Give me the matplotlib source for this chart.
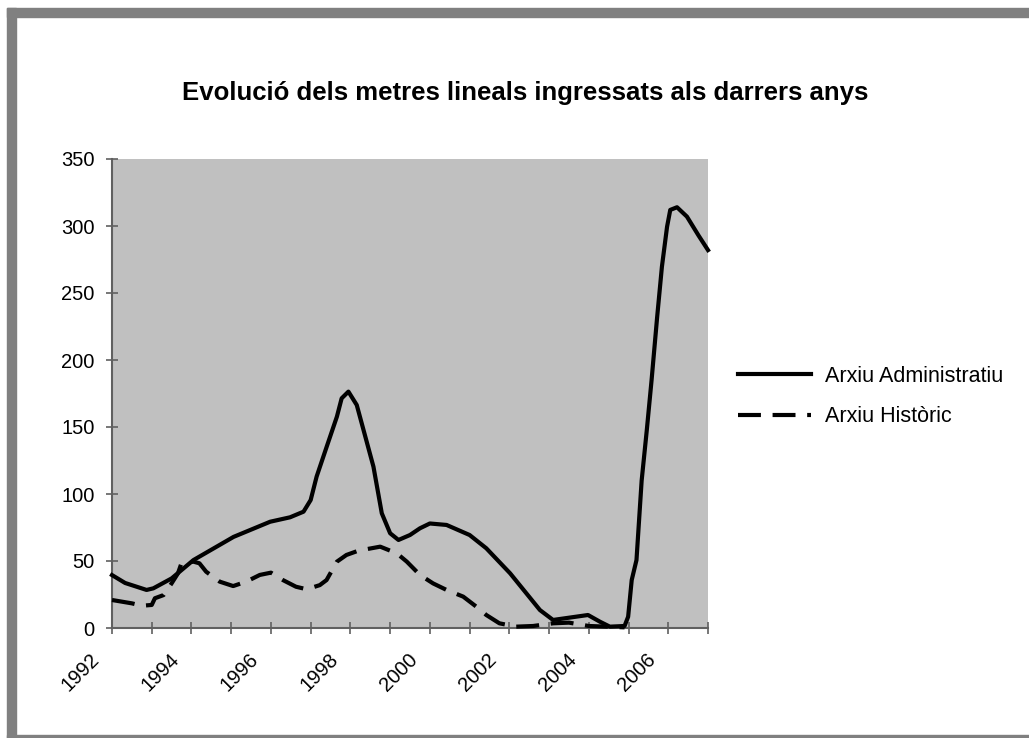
import matplotlib
matplotlib.use("Agg")
import matplotlib.pyplot as plt
import matplotlib.transforms as mtransforms
from matplotlib.patches import Rectangle

plt.rcParams['font.family'] = ['Liberation Sans', 'DejaVu Sans']

# Arxiu Administratiu (solid line)
admin_years = [1992.00, 1992.33, 1992.87, 1993.04, 1993.50, 1994.05, 1995.06, 1995.98,
               1996.48, 1996.82, 1997.00, 1997.15, 1997.40, 1997.66, 1997.78, 1997.95,
               1998.16, 1998.33, 1998.58, 1998.79, 1999.00, 1999.21, 1999.50, 1999.75,
               2000.00, 2000.42, 2001.00, 2001.42, 2002.02, 2002.77, 2003.10, 2003.98,
               2004.28, 2004.53, 2004.90, 2004.99, 2005.08, 2005.20, 2005.33, 2005.46,
               2005.58, 2005.72, 2005.84, 2005.97, 2006.05, 2006.22, 2006.47, 2006.76,
               2007.00]
admin_vals = [39.5, 33.6, 28.4, 29.6, 37.0, 50.7, 68.0, 79.3,
              82.6, 86.8, 95.5, 113, 135, 157.7, 171.4, 176.4,
              166.4, 147.8, 120.4, 85.6, 70.7, 65.7, 69.4, 74.4,
              78.0, 76.9, 69.4, 59.5, 40.8, 13.4, 6.0, 9.7,
              4.7, 1.0, 1.5, 8.4, 35.8, 50.7, 110, 147.8,
              185, 232, 269.6, 299.5, 312, 314, 307, 293,
              282]

# Arxiu Historic (dashed line)
hist_years = [1992.00, 1992.50, 1992.75, 1993.00, 1993.08, 1993.30, 1993.50, 1993.66,
              1993.75, 1994.05, 1994.20, 1994.37, 1994.71, 1995.05, 1995.38, 1995.72,
              1996.00, 1996.30, 1996.63, 1996.90, 1997.23, 1997.40, 1997.66, 1997.90,
              1998.20, 1998.75, 1999.17, 1999.42, 1999.75, 2000.08, 2000.42, 2000.84,
              2001.17, 2001.42, 2001.75, 2002.17, 2002.60, 2003.10, 2003.50, 2004.00,
              2004.90]
hist_vals = [20.9, 18.4, 16.6, 17.2, 22.2, 24.6, 33.3, 40.8,
             48.5, 49.5, 48.3, 42.0, 34.6, 31.3, 34.6, 39.6,
             41.3, 35.8, 30.8, 28.9, 32.0, 35.8, 49.5, 54.5,
             57.7, 60.7, 55.7, 49.5, 39.6, 33.3, 28.4, 23.4,
             15.9, 9.7, 3.5, 1.0, 1.5, 3.5, 4.0, 1.5,
             0.5]

tick_years = list(range(1992, 2008))
label_years = [y for y in tick_years if y % 2 == 0]
yticks = [0, 50, 100, 150, 200, 250, 300, 350]

W, H = 1029, 738
fig = plt.figure(figsize=(W / 100, H / 100), dpi=100)

# gray frame around the chart (cut at right side)
gray = "#808080"
fig.patches.append(Rectangle((7 / W, 1 - 17 / H), 1 - 7 / W, 9 / H, transform=fig.transFigure,
                             color=gray, zorder=0))
fig.patches.append(Rectangle((7 / W, 0), 9 / W, 1 - 8 / H, transform=fig.transFigure,
                             color=gray, zorder=0))
fig.patches.append(Rectangle((7 / W, 0), 1 - 7 / W, 3 / H, transform=fig.transFigure,
                             color=gray, zorder=0))

ax = fig.add_axes([112 / W, 1 - 628 / H, (708 - 112) / W, (628 - 159) / H])
ax.set_facecolor("#C0C0C0")

ax.plot(admin_years, admin_vals, color="black", lw=3, solid_joinstyle="round",
        label="Arxiu Administratiu", clip_on=False, zorder=3)
ax.plot(hist_years, hist_vals, color="black", lw=3, dashes=(5.5, 2.8),
        label="Arxiu Històric", clip_on=False, zorder=3)

ax.set_xlim(1992, 2007)
ax.set_ylim(0, 350)
ax.set_xticks(tick_years)
ax.set_xticklabels([])
ax.set_yticks(yticks)
ax.set_yticklabels([str(v) for v in yticks], fontsize=14.5)

# rotated year labels, placed left of their tick like the original
shift = mtransforms.ScaledTranslation(-22 / 100, -22 / 100, fig.dpi_scale_trans)
for y in label_years:
    ax.text(y, 0, str(y), transform=ax.get_xaxis_transform() + shift,
            rotation=45, ha="right", va="top", rotation_mode="anchor", fontsize=14.5)

axis_col = "#606060"
for s in ["top", "right"]:
    ax.spines[s].set_visible(False)
for s in ["left", "bottom"]:
    ax.spines[s].set_color(axis_col)
    ax.spines[s].set_linewidth(1.5)
ax.tick_params(axis="both", direction="inout", length=9, width=1.2, color=axis_col)
ax.tick_params(axis="y", pad=8)

fig.text(525 / W, 1 - 93 / H, "Evolució dels metres lineals ingressats als darrers anys",
         ha="center", va="center", fontsize=18.5, fontweight="bold")

ax.legend(loc="upper left", bbox_to_anchor=(738 / W, 1 - 366 / H),
          bbox_transform=fig.transFigure, frameon=False, fontsize=15.5,
          handlelength=3.4, handletextpad=0.65, labelspacing=0.9, borderpad=0,
          borderaxespad=0)

fig.savefig("out.png", dpi=100)
